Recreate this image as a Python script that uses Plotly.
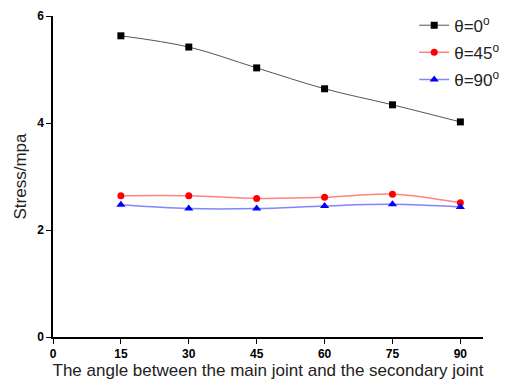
import plotly.graph_objects as go

angles = [15, 30, 45, 60, 75, 90]
theta0 = [5.63, 5.42, 5.03, 4.64, 4.34, 4.02]
theta45 = [2.64, 2.64, 2.59, 2.61, 2.67, 2.51]
theta90 = [2.47, 2.40, 2.40, 2.45, 2.48, 2.43]
names = ["θ=0<sup>o</sup>", "θ=45<sup>o</sup>", "θ=90<sup>o</sup>"]
x_ticks = [0, 15, 30, 45, 60, 75, 90]
y_ticks = [0, 2, 4, 6]

fig = go.Figure()
fig.add_trace(go.Scatter(x=angles, y=theta0, name=names[0], mode="lines+markers", legendgroup="a",
                         line=dict(color="#555555", width=1, shape="spline"),
                         marker=dict(symbol="square", size=7, color="black")))
fig.add_trace(go.Scatter(x=angles, y=theta45, name=names[1], mode="lines+markers", legendgroup="b",
                         line=dict(color="rgba(255,90,90,0.75)", width=1.5, shape="spline"),
                         marker=dict(symbol="circle", size=7, color="red")))
fig.add_trace(go.Scatter(x=angles, y=theta90, name=names[2], mode="lines+markers", legendgroup="c",
                         line=dict(color="rgba(80,80,255,0.7)", width=1.5, shape="spline"),
                         marker=dict(symbol="triangle-up", size=8, color="blue")))

fig.update_layout(
    width=508, height=385,
    margin=dict(l=53, r=25, t=16, b=48, autoexpand=False),
    paper_bgcolor="white", plot_bgcolor="white",
    font=dict(family="Liberation Sans, Arial", color="#222222"),
    legend=dict(x=0.84, y=1.026, xanchor="left", yanchor="top",
                bgcolor="rgba(0,0,0,0)", font=dict(size=17), tracegroupgap=2),
    xaxis=dict(range=[0, 95], tickvals=x_ticks, showline=True, linecolor="black", linewidth=1.5,
               ticks="outside", ticklen=5, tickwidth=1, tickcolor="black", showgrid=False, zeroline=False,
               tickfont=dict(size=12, family="Liberation Sans, Arial", weight="bold", color="black"),
               title=dict(text="The angle between the main joint and the secondary joint",
                          font=dict(size=17), standoff=2)),
    yaxis=dict(range=[0, 6], tickvals=y_ticks, showline=True, linecolor="black", linewidth=1.5,
               ticks="outside", ticklen=5, tickwidth=1, tickcolor="black", showgrid=False, zeroline=False,
               tickfont=dict(size=12, family="Liberation Sans, Arial", weight="bold", color="black"),
               title=dict(text="Stress/mpa", font=dict(size=17), standoff=6)),
)

fig.write_html("out.html")
